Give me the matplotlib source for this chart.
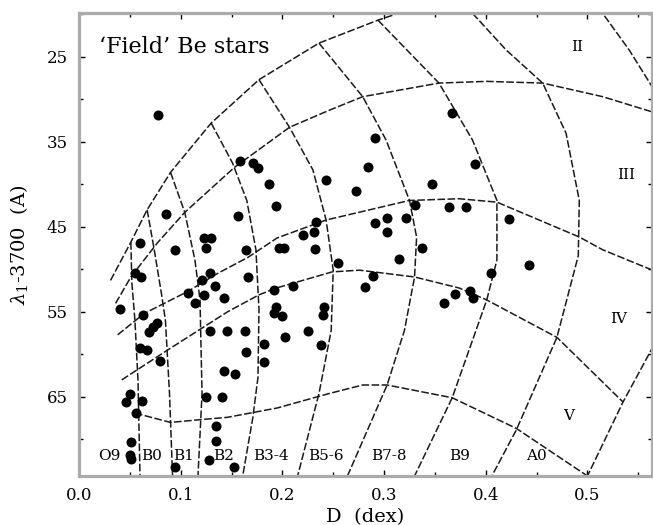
import matplotlib
matplotlib.use("Agg")
import matplotlib.pyplot as plt
from matplotlib.ticker import FixedLocator, MultipleLocator, FormatStrFormatter

# ---- stars: D (dex) and lambda_1 - 3700 (A) ----
star_D = [0.078, 0.158, 0.171, 0.176, 0.187, 0.243, 0.272, 0.284, 0.291, 0.367,
          0.389, 0.347, 0.194, 0.086, 0.156, 0.330, 0.364, 0.381, 0.423, 0.233,
          0.220, 0.231, 0.291, 0.303, 0.303, 0.322, 0.060, 0.123, 0.130, 0.125,
          0.094, 0.164, 0.197, 0.202, 0.232, 0.337, 0.255, 0.315, 0.443, 0.405,
          0.289, 0.281, 0.055, 0.061, 0.121, 0.129, 0.134, 0.166, 0.107, 0.123,
          0.114, 0.143, 0.192, 0.210, 0.194, 0.192, 0.200, 0.241, 0.240, 0.225,
          0.203, 0.238, 0.370, 0.385, 0.387, 0.359, 0.040, 0.063, 0.069, 0.073,
          0.077, 0.060, 0.067, 0.080, 0.129, 0.146, 0.163, 0.164, 0.182, 0.182,
          0.143, 0.153, 0.050, 0.046, 0.062, 0.056, 0.125, 0.141, 0.135, 0.135,
          0.051, 0.050, 0.051, 0.094, 0.128, 0.152]
star_lam = [31.9, 37.3, 37.5, 38.1, 40.0, 39.5, 40.8, 38.0, 34.6, 31.6,
            37.6, 40.0, 42.6, 43.5, 43.7, 42.4, 42.7, 42.7, 44.1, 44.4,
            46.0, 45.6, 44.6, 44.0, 45.6, 44.0, 46.9, 46.3, 46.3, 47.5,
            47.7, 47.7, 47.5, 47.5, 47.6, 47.5, 49.3, 48.8, 49.5, 50.4,
            50.8, 52.1, 50.4, 50.9, 51.2, 50.4, 52.0, 50.9, 52.8, 53.0,
            53.9, 53.4, 52.4, 52.0, 54.4, 55.1, 55.5, 54.4, 55.4, 57.2,
            58.0, 58.9, 52.9, 52.6, 53.4, 54.0, 54.7, 55.4, 57.4, 56.8,
            56.3, 59.3, 59.5, 60.8, 57.3, 57.3, 57.3, 59.7, 58.8, 60.9,
            62.0, 62.3, 64.6, 65.6, 65.5, 66.9, 65.0, 65.0, 68.4, 70.2,
            70.3, 71.8, 72.3, 73.3, 72.4, 73.3]

# ---- luminosity-class curves (D, lambda) ----
lumA_D = [0.031, 0.051, 0.067, 0.090, 0.130, 0.177, 0.236, 0.294, 0.354]
lumA_L = [51.3, 46.8, 43.0, 38.6, 32.8, 27.7, 23.4, 20.7, 18.3]
lumB_D = [0.036, 0.051, 0.077, 0.104, 0.153, 0.207, 0.246, 0.279, 0.354, 0.401, 0.456, 0.515, 0.564, 0.610]
lumB_L = [54.0, 50.9, 46.9, 43.3, 38.0, 33.3, 31.3, 29.7, 28.1, 27.9, 28.1, 29.7, 31.5, 33.6]
lumC_D = [0.038, 0.064, 0.107, 0.136, 0.166, 0.195, 0.243, 0.325, 0.374, 0.411, 0.492, 0.515, 0.564, 0.610]
lumC_L = [57.7, 55.2, 52.6, 50.5, 48.6, 46.3, 44.2, 41.9, 41.7, 42.1, 46.2, 47.7, 50.1, 52.4]
lumD_D = [0.042, 0.087, 0.146, 0.177, 0.194, 0.249, 0.276, 0.330, 0.374, 0.401, 0.470, 0.535]
lumD_L = [63.0, 59.5, 55.0, 53.0, 52.2, 50.3, 50.1, 50.9, 52.2, 53.6, 58.0, 65.6]
lumE_D = [0.055, 0.090, 0.117, 0.146, 0.195, 0.246, 0.279, 0.303, 0.367, 0.430, 0.500]
lumE_L = [66.9, 68.0, 67.7, 67.4, 66.3, 64.6, 63.6, 63.6, 65.1, 68.7, 74.3]

# ---- spectral-type curves (D, lambda) ----
spec1_D = [0.051, 0.052, 0.055, 0.058, 0.060]
spec1_L = [46.8, 51.6, 56.0, 63.0, 74.3]
spec2_D = [0.067, 0.074, 0.081, 0.085, 0.089, 0.092]
spec2_L = [43.0, 47.7, 52.8, 56.0, 64.6, 74.3]
spec3_D = [0.090, 0.104, 0.114, 0.119, 0.121, 0.117]
spec3_L = [38.6, 43.3, 48.9, 53.6, 64.6, 74.3]
spec4_D = [0.130, 0.151, 0.165, 0.174, 0.177, 0.176, 0.171, 0.161]
spec4_L = [32.8, 37.5, 41.9, 47.7, 54.7, 62.7, 67.4, 74.3]
spec5_D = [0.177, 0.207, 0.230, 0.243, 0.250, 0.248, 0.236, 0.215]
spec5_L = [27.7, 33.3, 38.3, 44.2, 50.1, 57.2, 64.6, 74.3]
spec6_D = [0.236, 0.279, 0.302, 0.325, 0.332, 0.330, 0.320, 0.303, 0.264]
spec6_L = [23.4, 29.7, 34.8, 41.9, 46.2, 50.9, 57.2, 63.6, 74.3]
spec7_D = [0.294, 0.354, 0.387, 0.411, 0.411, 0.401, 0.367, 0.330]
spec7_L = [20.7, 28.1, 34.8, 41.9, 48.9, 53.6, 65.1, 74.3]
spec8_D = [0.369, 0.387, 0.420, 0.456, 0.479, 0.492, 0.491, 0.470, 0.430, 0.406]
spec8_L = [17.7, 19.9, 24.2, 28.1, 34.0, 41.9, 48.4, 58.0, 68.9, 74.3]
spec9_D = [0.503, 0.515, 0.541, 0.564, 0.600, 0.613, 0.595, 0.564, 0.535, 0.500]
spec9_L = [17.7, 19.9, 24.2, 28.6, 37.2, 46.6, 53.6, 59.2, 65.6, 74.3]

# ---- labels ----
spec_labels = ["O9", "B0", "B1", "B2", "B3-4", "B5-6", "B7-8", "B9", "A0"]
spec_label_D = [0.030, 0.071, 0.103, 0.142, 0.189, 0.243, 0.305, 0.374, 0.450]
spec_label_L = 71.9
lum_labels = ["II", "III", "IV", "V"]
lum_label_D = [0.490, 0.538, 0.531, 0.482]
lum_label_L = [23.9, 38.9, 55.8, 67.2]
x_major = [0.0, 0.1, 0.2, 0.3, 0.4, 0.5]
y_major = [25, 35, 45, 55, 65]
y_minor = [20, 30, 40, 50, 60, 70]

plt.rcParams['font.family'] = ['DejaVu Serif']
plt.rcParams['mathtext.fontset'] = 'dejavuserif'

fig = plt.figure(figsize=(6.53, 5.25), dpi=100)
ax = fig.add_axes([79 / 653, 49 / 525, 573 / 653, 463 / 525])

dash = (0, (5, 1.6))
lc = '#1a1a1a'
curves = [(lumA_D, lumA_L), (lumB_D, lumB_L), (lumC_D, lumC_L), (lumD_D, lumD_L),
          (lumE_D, lumE_L), (spec1_D, spec1_L), (spec2_D, spec2_L), (spec3_D, spec3_L),
          (spec4_D, spec4_L), (spec5_D, spec5_L), (spec6_D, spec6_L), (spec7_D, spec7_L),
          (spec8_D, spec8_L), (spec9_D, spec9_L)]
for cx, cy in curves:
    ax.plot(cx, cy, linestyle=dash, color=lc, linewidth=1.1)

ax.plot(star_D, star_lam, 'o', color='black', markersize=7.2, markeredgewidth=0)

for lab, d in zip(spec_labels, spec_label_D):
    ax.text(d, spec_label_L, lab, ha='center', va='center', fontsize=11)
for lab, d, l in zip(lum_labels, lum_label_D, lum_label_L):
    ax.text(d, l, lab, ha='center', va='center', fontsize=11)
ax.text(0.020, 23.9, "\u2018Field\u2019 Be stars", ha='left', va='center', fontsize=16)

ax.set_xlim(0, 0.5635)
ax.set_ylim(74.3, 19.86)

ax.xaxis.set_major_locator(FixedLocator(x_major))
ax.xaxis.set_minor_locator(MultipleLocator(0.05))
ax.yaxis.set_major_locator(FixedLocator(y_major))
ax.yaxis.set_minor_locator(FixedLocator(y_minor))
ax.xaxis.set_major_formatter(FormatStrFormatter('%.1f'))
ax.tick_params(which='both', direction='in', top=True, right=True, width=1.0, color='black')
ax.tick_params(which='major', length=4, labelsize=12, pad=8)
ax.tick_params(which='minor', length=3)

for sp in ax.spines.values():
    sp.set_color('#ababab')
    sp.set_linewidth(2.3)

ax.set_xlabel("D  (dex)", fontsize=14, labelpad=3)
ax.set_ylabel(r"$\lambda_1$-3700  (A)", fontsize=14, labelpad=12)

fig.savefig("out.png", dpi=100)
